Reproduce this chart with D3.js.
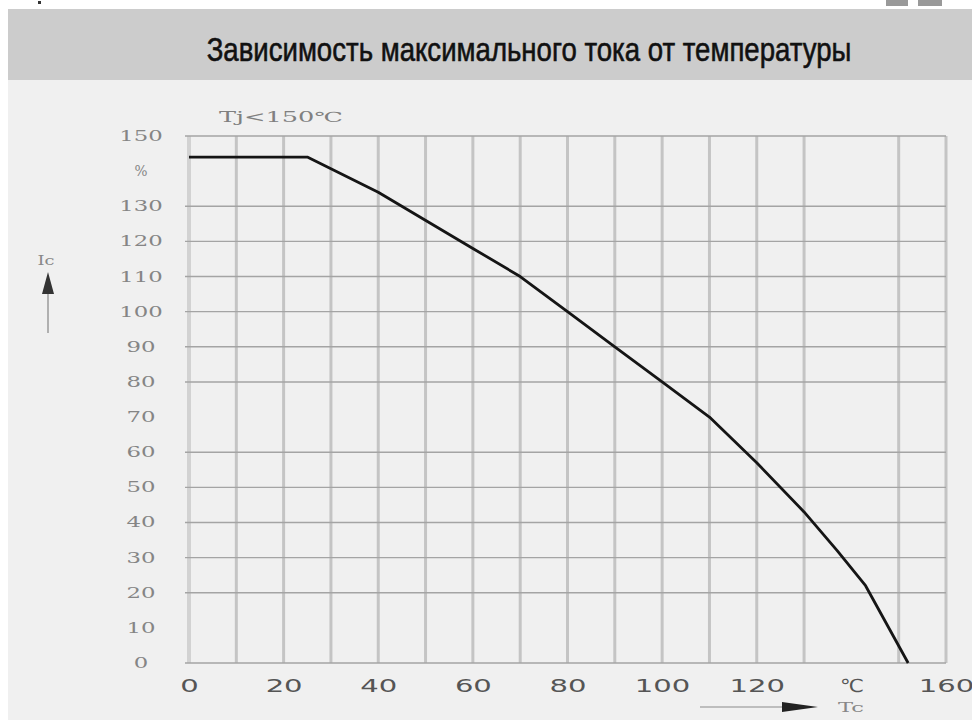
<!DOCTYPE html>
<meta charset="utf-8">
<script src="https://d3js.org/d3.v7.min.js"></script>
<style>
  body { margin: 0; background: #ffffff; }
  #my_dataviz { width: 972px; height: 720px; }
</style>
<body>
<div id="my_dataviz"></div>
<script>
// curve: case temperature (°C) vs max current (%)
var tempC      = [0,   25,  40,  60,  70,  80, 90, 100, 110, 120, 130, 137, 143, 152];
var currentPct = [144, 144, 134, 118, 110, 100, 90, 80,  70,  57,  43,  32,  22,  0];

// ticks
var xTickVals   = [0, 20, 40, 60, 80, 100, 120, 140, 160];
var xTickLabels = ["0", "20", "40", "60", "80", "100", "120", "\u2103", "160"];
var yTickVals   = [150, 140, 130, 120, 110, 100, 90, 80, 70, 60, 50, 40, 30, 20, 10, 0];
var yTickLabels = ["150", "%", "130", "120", "110", "100", "90", "80", "70", "60", "50", "40", "30", "20", "10", "0"];

// grid lines that are actually drawn in the scan
var gridX = [0, 10, 20, 30, 40, 50, 60, 70, 80, 90, 100, 110, 120, 130, 150, 160];
var gridY = [0, 20, 30, 40, 50, 60, 80, 90, 100, 110, 120, 130, 150];

var titleText = "Зависимость максимального тока от температуры";

var W = 972, H = 720;
var margin = {top: 136, right: 26, bottom: 57, left: 189},
    width = W - margin.left - margin.right,
    height = H - margin.top - margin.bottom;

var root = d3.select("#my_dataviz")
  .append("svg")
    .attr("width", W)
    .attr("height", H);

// backgrounds
root.append("rect").attr("x", 8).attr("y", 80).attr("width", W - 8).attr("height", H - 80).attr("fill", "#f0f0f0");
root.append("rect").attr("x", 8).attr("y", 9).attr("width", W - 8).attr("height", 71).attr("fill", "#cccccc");
// bits of the cropped screenshot at the top edge
root.append("rect").attr("x", 38).attr("y", 1).attr("width", 3).attr("height", 3).attr("fill", "#333");
root.append("rect").attr("x", 886).attr("y", 0).attr("width", 22).attr("height", 6).attr("fill", "#999");
root.append("rect").attr("x", 918).attr("y", 0).attr("width", 24).attr("height", 6).attr("fill", "#999");

// title: tall condensed look, squeezed horizontally to the scan's width
var title = root.append("text")
  .attr("x", 0).attr("y", 0)
  .attr("text-anchor", "middle")
  .style("font-family", "'Liberation Sans Narrow', 'Liberation Sans', Arial, sans-serif")
  .style("font-size", "34px")
  .style("fill", "#111")
  .style("stroke", "#111")
  .style("stroke-width", "0.6px")
  .text(titleText);
var tw = title.node().getComputedTextLength();
var sx = tw > 0 ? 645 / tw : 1;
title.attr("transform", "translate(529,61) scale(" + sx + ",1)");

var svg = root.append("g")
  .attr("transform", "translate(" + margin.left + "," + margin.top + ")");

var x = d3.scaleLinear().domain([0, 160]).range([0, width]);
var y = d3.scaleLinear().domain([0, 150]).range([height, 0]);

// vertical grid (thick, soft)
svg.selectAll("vgrid")
  .data(gridX)
  .enter()
  .append("line")
    .attr("x1", function(d) { return x(d); })
    .attr("x2", function(d) { return x(d); })
    .attr("y1", 0)
    .attr("y2", height)
    .attr("stroke", function(d) { return d === 0 ? "#d2d2d2" : "#c4c4c4"; })
    .attr("stroke-width", function(d) { return d === 0 ? 4 : 3; });

// horizontal grid
svg.selectAll("hgrid")
  .data(gridY)
  .enter()
  .append("line")
    .attr("x1", -4)
    .attr("x2", x(160))
    .attr("y1", function(d) { return y(d); })
    .attr("y2", function(d) { return y(d); })
    .attr("stroke", "#a4a4a4")
    .attr("stroke-width", 1.4);

// x axis labels
var xAxis = svg.append("g")
  .attr("transform", "translate(0," + height + ")")
  .call(d3.axisBottom(x).tickValues(xTickVals).tickSize(0).tickPadding(16)
        .tickFormat(function(d, i) { return xTickLabels[i]; }));
xAxis.select(".domain").remove();
xAxis.selectAll("text")
  .style("font-family", "'DejaVu Sans', sans-serif")
  .style("font-size", "18px")
  .style("fill", "#555")
  .attr("textLength", function(d, i) { return xTickLabels[i] === "\u2103" ? 24 : xTickLabels[i].length * 18.5; })
  .attr("lengthAdjust", "spacingAndGlyphs");

// y axis labels
var yAxis = svg.append("g")
  .attr("transform", "translate(-48,0)")
  .call(d3.axisLeft(y).tickValues(yTickVals).tickSize(0).tickPadding(0)
        .tickFormat(function(d, i) { return yTickLabels[i]; }));
yAxis.select(".domain").remove();
yAxis.selectAll("text")
  .attr("text-anchor", "middle")
  .attr("x", 0)
  .style("font-family", "'DejaVu Serif', serif")
  .style("font-size", "14px")
  .style("fill", "#858585")
  .attr("textLength", function(d, i) { return yTickLabels[i] === "%" ? 13 : yTickLabels[i].length * 14.5; })
  .attr("lengthAdjust", "spacingAndGlyphs");

// the curve
svg.append("path")
  .datum(tempC.map(function(t, i) { return [t, currentPct[i]]; }))
  .attr("fill", "none")
  .attr("stroke", "#151515")
  .attr("stroke-width", 2.8)
  .attr("stroke-linejoin", "round")
  .attr("d", d3.line()
    .x(function(d) { return x(d[0]); })
    .y(function(d) { return y(d[1]); }));

// annotations
root.append("text")
  .attr("x", 281).attr("y", 122)
  .attr("text-anchor", "middle")
  .attr("textLength", 124)
  .attr("lengthAdjust", "spacingAndGlyphs")
  .style("font-family", "'DejaVu Serif', serif")
  .style("font-size", "14px")
  .style("fill", "#808080")
  .text("Tj<150\u2103");

root.append("text")
  .attr("x", 46).attr("y", 265)
  .attr("text-anchor", "middle")
  .attr("textLength", 17)
  .attr("lengthAdjust", "spacingAndGlyphs")
  .style("font-family", "'DejaVu Serif', serif")
  .style("font-size", "12px")
  .style("fill", "#888")
  .text("Ic");

// Ic arrow (up)
root.append("line").attr("x1", 48).attr("x2", 48).attr("y1", 292).attr("y2", 333)
  .attr("stroke", "#b0b0b0").attr("stroke-width", 2);
root.append("path").attr("d", "M48,272 L42,294 L54,294 Z").attr("fill", "#333");

// Tc arrow (right)
root.append("line").attr("x1", 700).attr("x2", 786).attr("y1", 707).attr("y2", 707)
  .attr("stroke", "#8a8a8a").attr("stroke-width", 1.2);
root.append("path").attr("d", "M782,702 L818,707 L782,712 Z").attr("fill", "#222");
root.append("text")
  .attr("x", 851).attr("y", 712)
  .attr("text-anchor", "middle")
  .attr("textLength", 26)
  .attr("lengthAdjust", "spacingAndGlyphs")
  .style("font-family", "'DejaVu Serif', serif")
  .style("font-size", "12px")
  .style("fill", "#888")
  .text("Tc");
</script>
</body>
